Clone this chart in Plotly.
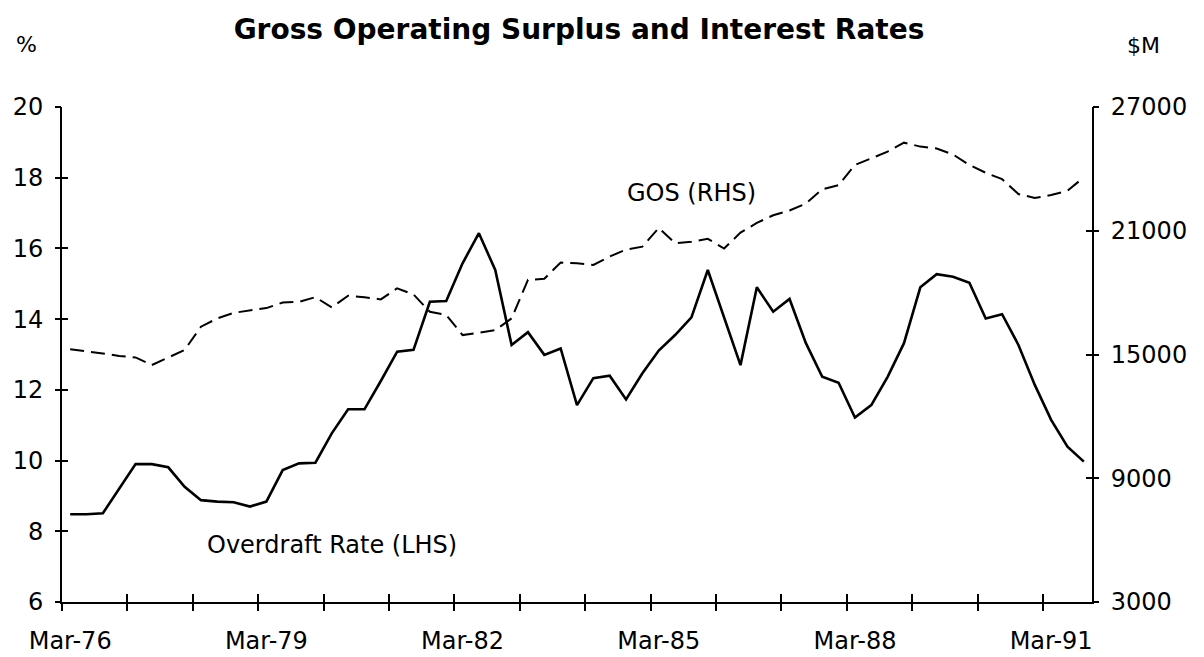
import plotly.graph_objects as go

# Quarterly data, Mar-76 to Sep-91 (index 0 = Mar-76)
quarter_index = list(range(63))

overdraft_rate = [
    8.48, 8.48, 8.51, 9.22, 9.90, 9.90, 9.81, 9.26, 8.88, 8.84,
    8.82, 8.70, 8.84, 9.73, 9.92, 9.94, 10.77, 11.45, 11.45, 12.25,
    13.08, 13.13, 14.49, 14.51, 15.58, 16.43, 15.39, 13.27, 13.63, 12.99,
    13.17, 11.57, 12.33, 12.40, 11.73, 12.47, 13.11, 13.55, 14.05, 15.39,
    14.05, 12.70, 14.90, 14.21, 14.57, 13.32, 12.37, 12.20, 11.22, 11.57,
    12.37, 13.32, 14.90, 15.27, 15.20, 15.03, 14.02, 14.14, 13.27, 12.14,
    11.15, 10.39, 9.97,
]

gos = [
    15260, 15170, 15050, 14930, 14860, 14490, 14860, 15220, 16350, 16750,
    17020, 17130, 17250, 17520, 17550, 17780, 17280, 17850, 17780, 17670,
    18210, 17910, 17070, 16920, 15940, 16060, 16180, 16750, 18620, 18670,
    19460, 19420, 19340, 19750, 20090, 20230, 21140, 20400, 20470, 20610,
    20140, 20910, 21380, 21750, 21980, 22320, 23010, 23210, 24190, 24510,
    24840, 25270, 25080, 24990, 24700, 24190, 23810, 23500, 22780, 22590,
    22730, 22940, 23590,
]

year_tick_positions = [4 * k - 0.5 for k in range(16)]
label_positions = [0, 12, 24, 36, 48, 60]
label_text = ["Mar-76", "Mar-79", "Mar-82", "Mar-85", "Mar-88", "Mar-91"]

left_ticks = [6, 8, 10, 12, 14, 16, 18, 20]
right_ticks = [3000, 9000, 15000, 21000, 27000]
right_tick_text = [str(v) for v in right_ticks]

FONT = "DejaVu Sans"
x_range = [-0.5, 62.5]
left_range = [6, 20]
right_range = [3000, 27000]

fig = go.Figure()
fig.add_trace(go.Scatter(
    x=quarter_index, y=overdraft_rate, mode="lines",
    line=dict(color="black", width=2.6), xaxis="x", yaxis="y",
    name="Overdraft Rate (LHS)", showlegend=False,
))
fig.add_trace(go.Scatter(
    x=quarter_index, y=gos, mode="lines",
    line=dict(color="black", width=2, dash="14px,7px"), xaxis="x", yaxis="y2",
    name="GOS (RHS)", showlegend=False,
))
# invisible copies so that the tick-only overlay axes get drawn
fig.add_trace(go.Scatter(
    x=quarter_index, y=overdraft_rate, mode="lines", opacity=0,
    line=dict(width=0), xaxis="x2", yaxis="y3", hoverinfo="skip",
    showlegend=False,
))
fig.add_trace(go.Scatter(
    x=quarter_index, y=gos, mode="lines", opacity=0,
    line=dict(width=0), xaxis="x3", yaxis="y4", hoverinfo="skip",
    showlegend=False,
))

common_x = dict(range=x_range, showgrid=False, zeroline=False,
                fixedrange=True, automargin=False)
common_y = dict(showgrid=False, zeroline=False, fixedrange=True,
                automargin=False)
common_tick = dict(tickcolor="black", tickwidth=1.5)

fig.update_layout(
    width=1204, height=657, autosize=False,
    margin=dict(l=62, r=112, t=107, b=55, pad=0),
    paper_bgcolor="white", plot_bgcolor="white",
    font=dict(family=FONT, color="black", size=24),
    title=dict(
        text="Gross Operating Surplus and Interest Rates",
        font=dict(family=FONT, size=28, weight="bold", color="black"),
        x=579 / 1204, xanchor="center", xref="container",
        y=1 - 29 / 657, yanchor="middle", yref="container",
        automargin=False,
    ),
    # main bottom axis: line + inside half of the cross ticks
    xaxis=dict(
        **common_x, **common_tick, anchor="y",
        showline=True, linecolor="black", linewidth=2,
        tickmode="array", tickvals=year_tick_positions,
        ticks="inside", ticklen=8, showticklabels=False,
    ),
    # overlay: outside half of the cross ticks
    xaxis2=dict(
        **common_x, **common_tick, overlaying="x", anchor="y", side="bottom",
        showline=False, tickmode="array", tickvals=year_tick_positions,
        ticks="outside", ticklen=8, showticklabels=False,
    ),
    # overlay: category labels
    xaxis3=dict(
        **common_x, overlaying="x", anchor="y", side="bottom",
        showline=False, tickmode="array", tickvals=label_positions,
        ticktext=label_text, ticks="", ticklabelstandoff=22,
        tickfont=dict(family=FONT, size=24, color="black"),
    ),
    yaxis=dict(
        **common_y, range=left_range, anchor="x", side="left",
        showline=True, linecolor="black", linewidth=2, **common_tick,
        tickmode="array", tickvals=left_ticks, ticks="inside", ticklen=6,
        ticklabelstandoff=12, tickfont=dict(family=FONT, size=24, color="black"),
    ),
    yaxis3=dict(
        **common_y, range=left_range, overlaying="y", anchor="x", side="left",
        showline=False, **common_tick,
        tickmode="array", tickvals=left_ticks, ticks="outside", ticklen=6,
        showticklabels=False,
    ),
    yaxis2=dict(
        **common_y, range=right_range, overlaying="y", anchor="x", side="right",
        showline=True, linecolor="black", linewidth=2, **common_tick,
        tickmode="array", tickvals=right_ticks, ticktext=right_tick_text,
        ticks="inside", ticklen=6, ticklabelstandoff=12,
        tickfont=dict(family=FONT, size=24, color="black"),
    ),
    yaxis4=dict(
        **common_y, range=right_range, overlaying="y", anchor="x", side="right",
        showline=False, **common_tick,
        tickmode="array", tickvals=right_ticks, ticks="outside", ticklen=6,
        showticklabels=False,
    ),
    annotations=[
        dict(text="Overdraft Rate (LHS)", x=16.0, y=7.61, xref="x", yref="y",
             showarrow=False, xanchor="center", yanchor="middle",
             font=dict(family=FONT, size=24, color="black")),
        dict(text="GOS (RHS)", x=38.0, y=17.57, xref="x", yref="y",
             showarrow=False, xanchor="center", yanchor="middle",
             font=dict(family=FONT, size=24, color="black")),
        dict(text="%", x=(26 - 62) / 1030, y=(602 - 44.5) / 495,
             xref="paper", yref="paper", showarrow=False,
             xanchor="center", yanchor="middle",
             font=dict(family=FONT, size=22, color="black")),
        dict(text="$M", x=(1143 - 62) / 1030, y=(602 - 45) / 495,
             xref="paper", yref="paper", showarrow=False,
             xanchor="center", yanchor="middle",
             font=dict(family=FONT, size=22, color="black")),
    ],
)

fig.write_html(
    "out.html",
    config={"displayModeBar": False},
    post_script="document.body.style.margin='0';",
)
